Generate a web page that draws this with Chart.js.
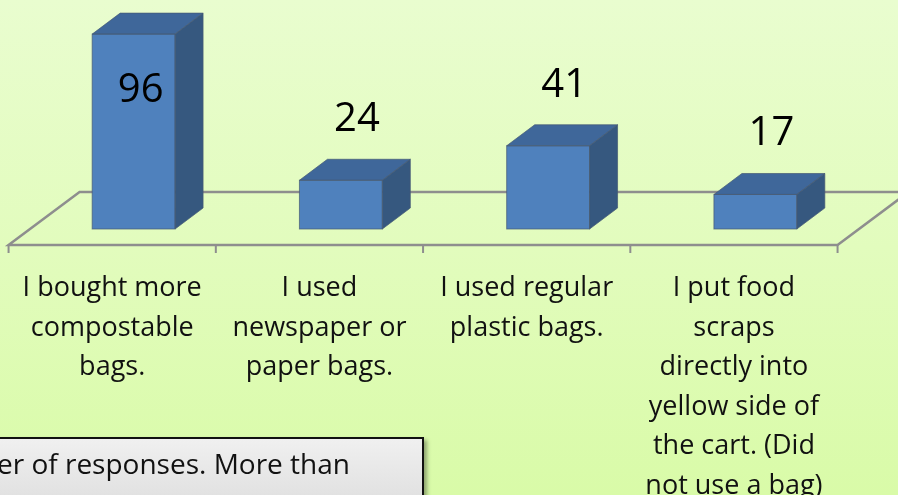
<!DOCTYPE html>
<html>
<head>
<meta charset="utf-8">
<script src="https://cdn.jsdelivr.net/npm/chart.js@4.4.0/dist/chart.umd.min.js"></script>
<style>
    html, body {
        margin: 0;
        padding: 0;
        width: 898px;
        height: 495px;
        overflow: hidden;
    }
    body {
        position: relative;
        background: linear-gradient(to bottom, #E9FDCF 0%, #E2FCBD 50%, #D9FBA8 100%);
        font-family: 'Open Sans', sans-serif;
    }
    #myChart {
        position: absolute;
        left: 0;
        top: 0;
    }
    .note {
        position: absolute;
        left: -140px;
        top: 437px;
        width: 564px;
        height: 90px;
        box-sizing: border-box;
        border: 2px solid #111;
        background: linear-gradient(to bottom, #F0F0F0, #DADADA);
        box-shadow: 3px 3px 4px rgba(0, 0, 0, 0.35);
        font-size: 28px;
        line-height: 36px;
        color: #111;
        text-align: right;
        padding: 6px 72px 0 0;
        white-space: nowrap;
    }
</style>
</head>
<body>
<canvas id="myChart" width="898" height="495"></canvas>
<div class="note">Number of responses. More than</div>

<script>
const categories = [
    ['I bought more', 'compostable', 'bags.'],
    ['I used', 'newspaper or', 'paper bags.'],
    ['I used regular', 'plastic bags.'],
    ['I put food', 'scraps', 'directly into', 'yellow side of', 'the cart. (Did', 'not use a bag)']
];
const responses = [96, 24, 41, 17];

// oblique projection of the 3d look
const DEPTH_X = 28;
const DEPTH_Y = 21;
const FLOOR_X = 71;
const FLOOR_Y = 53;
const FLOOR_FRONT = 16;

const bar3d = {
    id: 'bar3d',
    beforeDatasetsDraw(chart) {
        const ctx = chart.ctx;
        const xs = chart.scales.x;
        const ys = chart.scales.y;
        const shiftX = FLOOR_FRONT * FLOOR_X / FLOOR_Y;
        const y0 = ys.getPixelForValue(0) + FLOOR_FRONT;
        const left = xs.left - shiftX;
        const right = xs.right - shiftX;
        const catW = (xs.right - xs.left) / categories.length;

        ctx.save();
        ctx.strokeStyle = '#8E8E8E';
        ctx.lineWidth = 2.5;
        ctx.beginPath();
        ctx.moveTo(right + FLOOR_X, y0 - FLOOR_Y);
        ctx.lineTo(left + FLOOR_X, y0 - FLOOR_Y);
        ctx.lineTo(left, y0);
        ctx.lineTo(right, y0);
        ctx.lineTo(right + FLOOR_X, y0 - FLOOR_Y);
        ctx.stroke();

        ctx.lineWidth = 2;
        for (let i = 0; i <= categories.length; i++) {
            const x = left + i * catW;
            ctx.beginPath();
            ctx.moveTo(x, y0);
            ctx.lineTo(x, y0 + 8);
            ctx.stroke();
        }

        // category labels under the floor
        ctx.fillStyle = '#111';
        ctx.font = '27px "Open Sans"';
        ctx.textAlign = 'center';
        ctx.textBaseline = 'alphabetic';
        categories.forEach((lines, i) => {
            const cx = left + (i + 0.5) * catW;
            lines.forEach((line, j) => {
                ctx.fillText(line, cx, 296 + j * 39.5);
            });
        });
        ctx.restore();
    },
    afterDatasetsDraw(chart) {
        const ctx = chart.ctx;
        const meta = chart.getDatasetMeta(0);
        ctx.save();
        meta.data.forEach((bar, i) => {
            const x0 = bar.x - bar.width / 2;
            const x1 = bar.x + bar.width / 2;
            const top = bar.y;
            const bottom = bar.base;

            ctx.strokeStyle = 'rgba(70, 90, 115, 0.7)';
            ctx.lineWidth = 1;

            // top face
            ctx.fillStyle = '#3F679A';
            ctx.beginPath();
            ctx.moveTo(x0, top);
            ctx.lineTo(x0 + DEPTH_X, top - DEPTH_Y);
            ctx.lineTo(x1 + DEPTH_X, top - DEPTH_Y);
            ctx.lineTo(x1, top);
            ctx.closePath();
            ctx.fill();
            ctx.stroke();

            // side face
            ctx.fillStyle = '#36587F';
            ctx.beginPath();
            ctx.moveTo(x1, top);
            ctx.lineTo(x1 + DEPTH_X, top - DEPTH_Y);
            ctx.lineTo(x1 + DEPTH_X, bottom - DEPTH_Y);
            ctx.lineTo(x1, bottom);
            ctx.closePath();
            ctx.fill();
            ctx.stroke();

            ctx.strokeRect(x0, top, x1 - x0, bottom - top);

            // value label
            ctx.fillStyle = '#000';
            ctx.font = '40px "Open Sans"';
            ctx.textAlign = 'center';
            ctx.textBaseline = 'alphabetic';
            const above = top - DEPTH_Y - 28;
            if (above - 30 < 5) {
                ctx.fillText(responses[i], bar.x + 7, top + 68);
            } else {
                ctx.fillText(responses[i], bar.x + DEPTH_X / 2 + 2, above);
            }
        });
        ctx.restore();
    }
};

new Chart(document.getElementById('myChart'), {
    type: 'bar',
    data: {
        labels: categories.map(c => c.join(' ')),
        datasets: [{
            label: 'Responses',
            data: responses,
            backgroundColor: '#4F81BD',
            borderWidth: 0,
            barPercentage: 0.4,
            categoryPercentage: 1.0
        }]
    },
    options: {
        responsive: false,
        animation: false,
        devicePixelRatio: 1,
        layout: {
            padding: { left: 30, right: 39, top: 26, bottom: 266 }
        },
        scales: {
            x: { display: false },
            y: { display: false, min: 0, max: 100 }
        },
        plugins: {
            legend: { display: false },
            tooltip: { enabled: false }
        }
    },
    plugins: [bar3d]
});
</script>
</body>
</html>
